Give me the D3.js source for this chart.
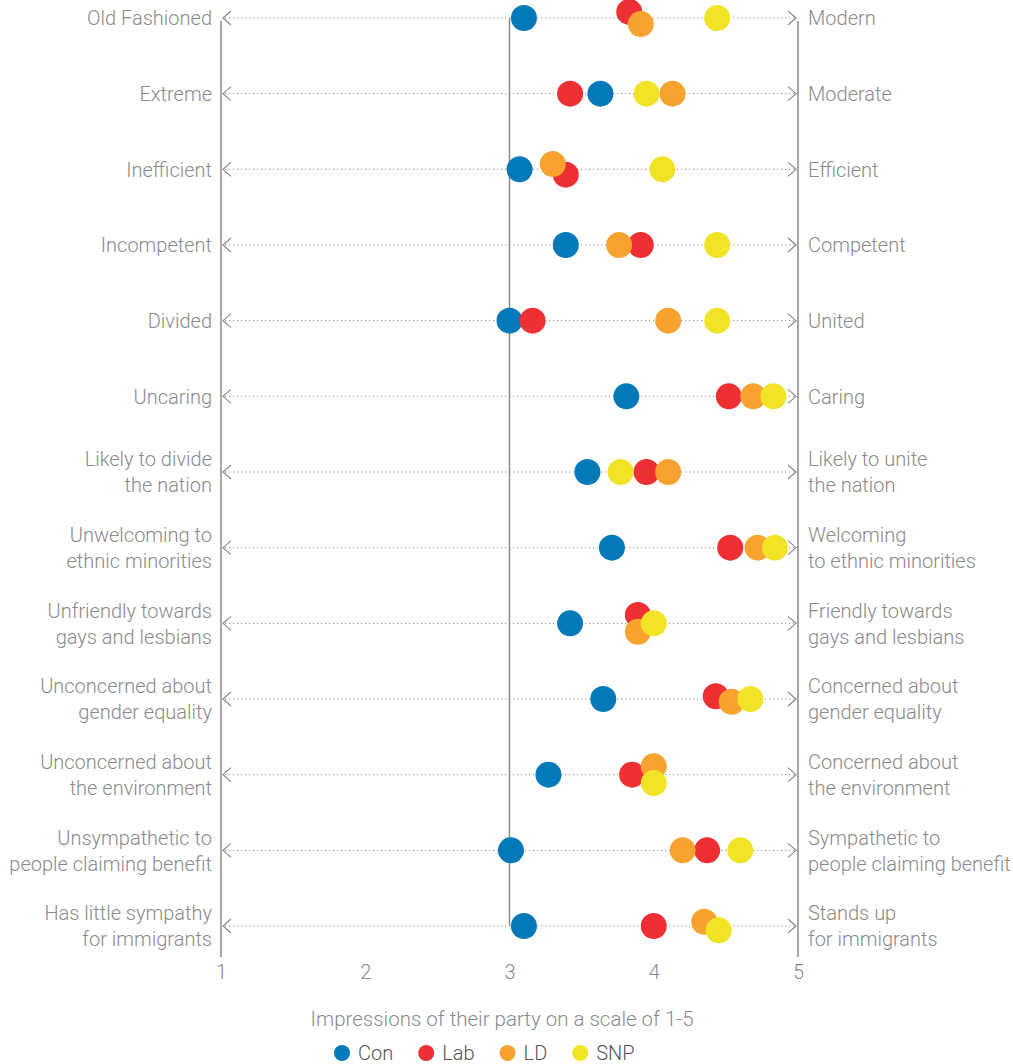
<!DOCTYPE html>
<html>
<head>
<meta charset="utf-8">
<script src="https://cdn.jsdelivr.net/npm/d3@7"></script>
<style>
  body { margin: 0; background: #fff; }
  text { font-family: Roboto, "Open Sans", sans-serif; font-weight: 300; }
</style>
</head>
<body>
<div id="chart"></div>
<script>
// row labels (left = score 1, right = score 5)
var leftLabels = [
  ["Old Fashioned"], ["Extreme"], ["Inefficient"], ["Incompetent"], ["Divided"], ["Uncaring"],
  ["Likely to divide", "the nation"], ["Unwelcoming to", "ethnic minorities"],
  ["Unfriendly towards", "gays and lesbians"], ["Unconcerned about", "gender equality"],
  ["Unconcerned about", "the environment"], ["Unsympathetic to", "people claiming benefit"],
  ["Has little sympathy", "for immigrants"]
];
var rightLabels = [
  ["Modern"], ["Moderate"], ["Efficient"], ["Competent"], ["United"], ["Caring"],
  ["Likely to unite", "the nation"], ["Welcoming", "to ethnic minorities"],
  ["Friendly towards", "gays and lesbians"], ["Concerned about", "gender equality"],
  ["Concerned about", "the environment"], ["Sympathetic to", "people claiming benefit"],
  ["Stands up", "for immigrants"]
];
var parties = ["Con", "Lab", "LD", "SNP"];
var partyColors = ["#0479b9", "#ee3035", "#f8a32f", "#f1e325"];

// mean scores per row
var con = [3.10, 3.63, 3.07, 3.39, 3.00, 3.81, 3.54, 3.71, 3.42, 3.65, 3.27, 3.01, 3.10];
var lab = [3.83, 3.42, 3.39, 3.91, 3.16, 4.52, 3.95, 4.53, 3.89, 4.43, 3.85, 4.37, 4.00];
var ld  = [3.91, 4.13, 3.30, 3.76, 4.10, 4.69, 4.10, 4.72, 3.89, 4.54, 4.00, 4.20, 4.35];
var snp = [4.44, 3.95, 4.06, 4.44, 4.44, 4.83, 3.77, 4.84, 4.00, 4.67, 4.00, 4.60, 4.45];
var xTicks = [1, 2, 3, 4, 5];
var axisTitle = "Impressions of their party on a scale of 1-5";

var w = 1013, h = 1064;
var series = [con, lab, ld, snp];
var rowIdx = d3.range(leftLabels.length);

var x = d3.scaleLinear().domain([1, 5]).range([221, 798]);
var y = d3.scalePoint().domain(rowIdx).range([18, 926]);

var svg = d3.select("#chart").append("svg")
  .attr("width", w)
  .attr("height", h);

// vertical reference lines
svg.selectAll("line.vref")
  .data([1, 5])
  .enter().append("line")
  .attr("class", "vref")
  .attr("x1", function(d) { return x(d); })
  .attr("x2", function(d) { return x(d); })
  .attr("y1", y(0) + 3)
  .attr("y2", 957)
  .attr("stroke", "#8a8a8a")
  .attr("stroke-width", 1.5);
svg.append("line")
  .attr("x1", x(3)).attr("x2", x(3))
  .attr("y1", y(0)).attr("y2", y(rowIdx.length - 1))
  .attr("stroke", "#8a8a8a")
  .attr("stroke-width", 1.5);

// dotted guides with arrows
var rows = svg.selectAll("g.row")
  .data(rowIdx)
  .enter().append("g")
  .attr("class", "row")
  .attr("transform", function(d) { return "translate(0," + y(d) + ")"; });

rows.append("line")
  .attr("x1", x(1) + 4).attr("x2", x(5) - 4)
  .attr("stroke", "#8a8a8a")
  .attr("stroke-width", 1)
  .attr("stroke-dasharray", "1.2,2.8");
rows.append("path")
  .attr("d", "M" + (x(1) + 10) + ",-7L" + (x(1) + 2) + ",0L" + (x(1) + 10) + ",7")
  .attr("fill", "none").attr("stroke", "#8a8a8a").attr("stroke-width", 1.2);
rows.append("path")
  .attr("d", "M" + (x(5) - 10) + ",-7L" + (x(5) - 2) + ",0L" + (x(5) - 10) + ",7")
  .attr("fill", "none").attr("stroke", "#8a8a8a").attr("stroke-width", 1.2);

function addLabels(sel, getLines, xpos, anchor) {
  sel.append("text")
    .attr("text-anchor", anchor)
    .attr("fill", "#8a8a8a")
    .attr("font-size", 20)
    .each(function(d) {
      var lines = getLines(d);
      var t = d3.select(this);
      lines.forEach(function(s, k) {
        var off = lines.length === 1 ? 0 : (k === 0 ? -13 : 13);
        t.append("tspan").attr("x", xpos).attr("y", off).attr("dy", "0.36em").text(s);
      });
    });
}
addLabels(rows, function(d) { return leftLabels[d]; }, 212, "end");
addLabels(rows, function(d) { return rightLabels[d]; }, 808, "start");

// dots: x fixed at value, nudged vertically where they overlap
// (the higher score of an overlapping pair ends up lower)
var nodes = [];
rowIdx.forEach(function(r) {
  series.forEach(function(s, p) {
    nodes.push({ row: r, party: p, v: s[r], fx: x(s[r]), x: x(s[r]),
                 y: y(r) + (s[r] - 3.5) * 0.05 + p * 0.001 });
  });
});
var sim = d3.forceSimulation(nodes)
  .force("y", d3.forceY(function(d) { return y(d.row); }).strength(0.04))
  .force("collide", d3.forceCollide(8.4).iterations(4))
  .stop();
for (var i = 0; i < 300; ++i) sim.tick();

svg.append("g").selectAll("circle")
  .data(nodes)
  .enter().append("circle")
  .attr("cx", function(d) { return d.x; })
  .attr("cy", function(d) { return d.y; })
  .attr("r", 13)
  .attr("fill", function(d) { return partyColors[d.party]; });

// x axis labels
var axis = d3.axisBottom(x).tickValues(xTicks).tickSize(0).tickFormat(d3.format("d"));
var ax = svg.append("g")
  .attr("transform", "translate(0,962)")
  .call(axis);
ax.select(".domain").remove();
ax.selectAll("text")
  .attr("fill", "#8a8a8a")
  .attr("font-size", 20)
  .attr("font-family", "Roboto, sans-serif")
  .attr("font-weight", 300);

svg.append("text")
  .attr("x", 502)
  .attr("y", 1026)
  .attr("text-anchor", "middle")
  .attr("fill", "#8a8a8a")
  .attr("font-size", 20.5)
  .text(axisTitle);

// legend
var legend = svg.append("g").attr("transform", "translate(0,1053)");
var lx = 334;
parties.forEach(function(name, p) {
  legend.append("circle")
    .attr("cx", lx + 8).attr("cy", 0).attr("r", 8)
    .attr("fill", partyColors[p]);
  var t = legend.append("text")
    .attr("x", lx + 24).attr("y", 0).attr("dy", "0.36em")
    .attr("fill", "#555")
    .attr("font-size", 20)
    .text(name);
  lx += 24 + t.node().getComputedTextLength() + 25;
});
</script>
</body>
</html>
